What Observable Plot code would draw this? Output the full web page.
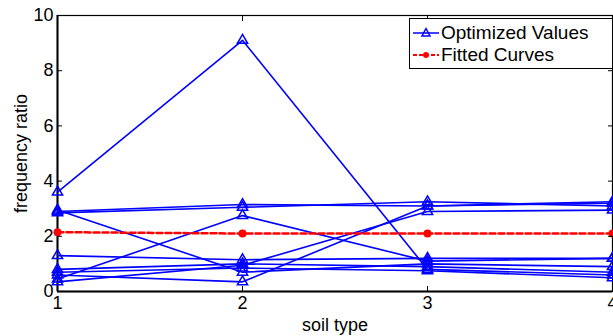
<!DOCTYPE html>
<html><head><meta charset="utf-8">
<script src="https://cdn.jsdelivr.net/npm/d3@7"></script>
<script src="https://cdn.jsdelivr.net/npm/@observablehq/plot@0.6"></script>
<style>
body{margin:0;background:#fff;}
#wrap{position:relative;width:613px;height:336px;font-family:"Liberation Sans",Arial,sans-serif;overflow:hidden;}
#legend{position:absolute;left:409px;top:18px;width:202px;height:49px;border:1px solid #000;background:#fff;font-size:19px;}
.row{position:absolute;left:0;height:22px;display:flex;align-items:center;}
.row svg{margin-left:2px;margin-right:1px;}
</style>
</head><body><div id="wrap"></div>
<script>
const soilTypes = [1, 2, 3, 4];
const optimizedSeries = [
  [3.6, 9.1, 0.8, 0.6],
  [2.9, 3.15, 3.1, 3.25],
  [2.85, 3.05, 3.25, 3.1],
  [2.95, 0.7, 1.0, 0.9],
  [0.45, 2.75, 1.1, 1.2],
  [0.35, 0.95, 2.9, 2.95],
  [0.6, 0.35, 3.1, 3.2],
  [1.3, 1.15, 1.2, 1.2],
  [0.8, 1.0, 0.9, 0.7],
  [0.7, 0.85, 0.75, 0.5]
];
const fittedValues = [2.15, 2.1, 2.1, 2.1];
const xTicks = [1, 2, 3, 4];
const yTicks = [0, 2, 4, 6, 8, 10];
const legendLabels = ["Optimized Values", "Fitted Curves"];

const optRows = optimizedSeries.flatMap((s, i) => s.map((v, j) => ({series: i, x: soilTypes[j], y: v})));
const fitRows = fittedValues.map((v, j) => ({x: soilTypes[j], y: v}));

const chart = Plot.plot({
  width: 613, height: 336,
  marginLeft: 57, marginRight: 1, marginTop: 15, marginBottom: 45,
  style: {fontFamily: '"Liberation Sans", Arial, sans-serif', fontSize: "18px", color: "#000", background: "#fff"},
  x: {domain: [1, 4]},
  y: {domain: [0, 10]},
  marks: [
    Plot.frame({stroke: "#000", strokeWidth: 1.2}),
    Plot.ruleY([0], {stroke: "#000", strokeWidth: 2}),
    Plot.ruleX([1], {stroke: "#000", strokeWidth: 2}),
    Plot.line(optRows, {x: "x", y: "y", z: "series", stroke: "#0000ff", strokeWidth: 1.6}),
    Plot.dot(optRows, {x: "x", y: "y", symbol: "triangle", stroke: "#0000ff", fill: "none", r: 3.8, strokeWidth: 1.5}),
    Plot.line(fitRows, {x: "x", y: "y", stroke: "#ff0000", strokeWidth: 2.5, strokeDasharray: "6,3"}),
    Plot.dot(fitRows, {x: "x", y: "y", fill: "#ff0000", r: 4}),
    Plot.axisX(xTicks, {anchor: "bottom", tickSize: -5, tickPadding: 10, tickFormat: d3.format("d"), label: "soil type", labelAnchor: "center", labelArrow: "none", labelOffset: 39, fontSize: 18}),
    Plot.axisX(xTicks, {anchor: "top", tickSize: -5, tickFormat: () => "", label: null}),
    Plot.axisY(yTicks, {anchor: "left", tickSize: -5, tickPadding: 9, label: "frequency ratio", labelAnchor: "center", labelArrow: "none", labelOffset: 43, fontSize: 18}),
    Plot.axisY(yTicks, {anchor: "right", tickSize: -5, tickFormat: () => "", label: null})
  ]
});
const wrap = document.getElementById("wrap");
wrap.appendChild(chart);

const legend = document.createElement("div");
legend.id = "legend";
legend.innerHTML = `
<div class="row" style="top:3px"><svg width="28" height="16"><line x1="1" y1="8" x2="27" y2="8" stroke="#0000ff" stroke-width="1.5"/><path d="M14,3.5 L18,11 L10,11 Z" fill="none" stroke="#0000ff" stroke-width="1.5"/></svg><span>${legendLabels[0]}</span></div>
<div class="row" style="top:25px"><svg width="28" height="16"><line x1="1" y1="8" x2="27" y2="8" stroke="#ff0000" stroke-width="2" stroke-dasharray="4,2"/><circle cx="14" cy="8" r="3" fill="#ff0000"/></svg><span>${legendLabels[1]}</span></div>`;
wrap.appendChild(legend);
</script>
</body></html>
